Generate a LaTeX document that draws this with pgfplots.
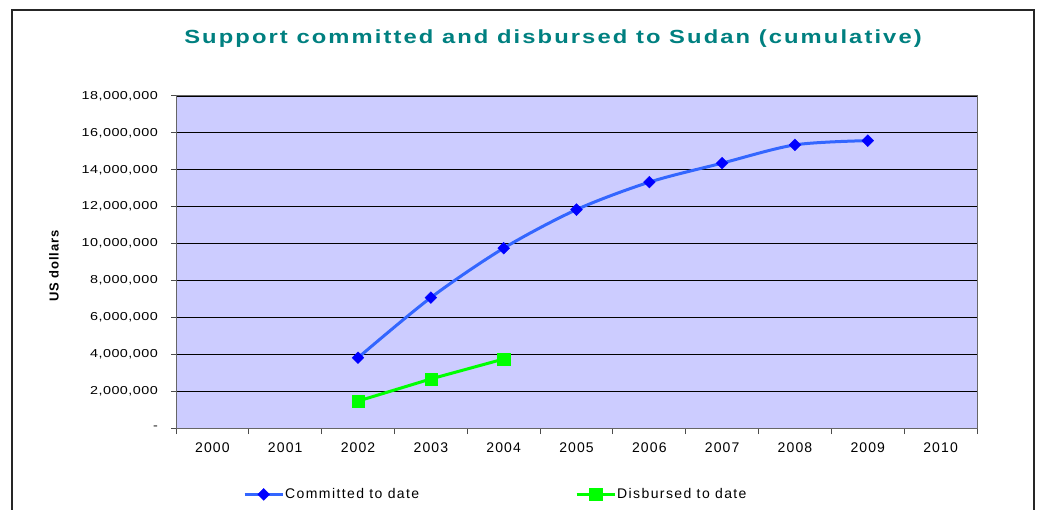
\documentclass[border=0pt]{standalone}
\usepackage{fontspec}
\setmainfont{Liberation Sans}
\newfontfamily\widefont[FakeStretch=1.25]{Liberation Sans}
\usepackage{pgfplots}
\pgfplotsset{compat=1.18}
\definecolor{bgc}{RGB}{204,204,255}
\definecolor{commline}{RGB}{51,102,255}
\definecolor{commmark}{RGB}{0,0,255}
\definecolor{disb}{RGB}{0,255,0}
\definecolor{ttl}{RGB}{0,128,128}
\newcommand\ls[1]{\addfontfeature{LetterSpace=#1}}
\begin{document}
\begin{tikzpicture}[x=1pt,y=1pt]
\path[use as bounding box] (0,0) rectangle (1044,509);
\draw[line width=2pt, black!85] (12,-20) -- (12,499) -- (1034,499) -- (1034,-20);
\begin{axis}[
  at={(176pt,81pt)}, anchor=south west,
  scale only axis, width=801pt, height=332pt,
  xmin=-0.5, xmax=10.5, ymin=0, ymax=18000000,
  scaled y ticks=false,
  axis background/.style={fill=bgc},
  axis line style={black!60, line width=1pt},
  xtick pos=bottom, ytick pos=left,
  xtick={0,1,2,3,4,5,6,7,8,9,10},
  xticklabels={2000,2001,2002,2003,2004,2005,2006,2007,2008,2009,2010},
  minor xtick={-0.5,0.5,1.5,2.5,3.5,4.5,5.5,6.5,7.5,8.5,9.5,10.5},
  every major x tick/.append style={draw=none},
  every minor x tick/.append style={black!70, line width=1pt},
  minor tick length=6pt, major tick length=5pt,
  tick align=outside,
  ytick={0,2000000,4000000,6000000,8000000,10000000,12000000,14000000,16000000,18000000},
  yticklabels={{-},{2,000,000},{4,000,000},{6,000,000},{8,000,000},{10,000,000},{12,000,000},{14,000,000},{16,000,000},{18,000,000}},
  every major y tick/.append style={black!70, line width=1pt},
  ymajorgrids, major grid style={black, line width=0.9pt},
  yticklabel style={font=\widefont\fontsize{11.5}{12}\selectfont\ls{4}, anchor=east, inner sep=0pt, xshift=-13pt},
  xticklabel style={font=\fontsize{14}{15}\selectfont\ls{8}, anchor=north, inner sep=0pt, yshift=-10pt},
  legend style={at={(0.0837,-0.2)}, anchor=west, draw=none, fill=none, legend columns=2, inner sep=0pt,
    font=\fontsize{14}{15}\selectfont\ls{10},
    nodes={inner sep=1pt},
    /tikz/every even column/.append style={column sep=155pt}},
  legend image code/.code={\draw[#1, mark repeat=2, mark phase=2] plot coordinates {(0pt,0pt) (19pt,0pt) (38pt,0pt)};},
  clip=false,
]
\addplot[commline, line width=3pt, smooth, tension=0.5, mark=square*, mark size=4.2pt,
  mark options={fill=commmark, draw=commmark, line width=0.3pt, rotate=45, solid}]
  coordinates {(2,3810000)(3,7070000)(4,9750000)(5,11840000)(6,13330000)(7,14360000)(8,15350000)(9,15580000)};
\addlegendentry{Committed to date}
\addplot[disb, line width=3pt, mark=square*, mark size=6.2pt,
  mark options={fill=disb, draw=disb, line width=0.3pt, solid}]
  coordinates {(2,1460000)(3,2660000)(4,3740000)};
\addlegendentry{Disbursed to date}
\end{axis}
\node[anchor=base, text=ttl, font=\widefont\fontsize{19}{21}\selectfont\bfseries\ls{11}] at (553,465) {Support committed and disbursed to Sudan (cumulative)};
\node[rotate=90, font=\fontsize{13}{14}\selectfont\bfseries\ls{7}] at (54,243) {US dollars};
\end{tikzpicture}
\end{document}
